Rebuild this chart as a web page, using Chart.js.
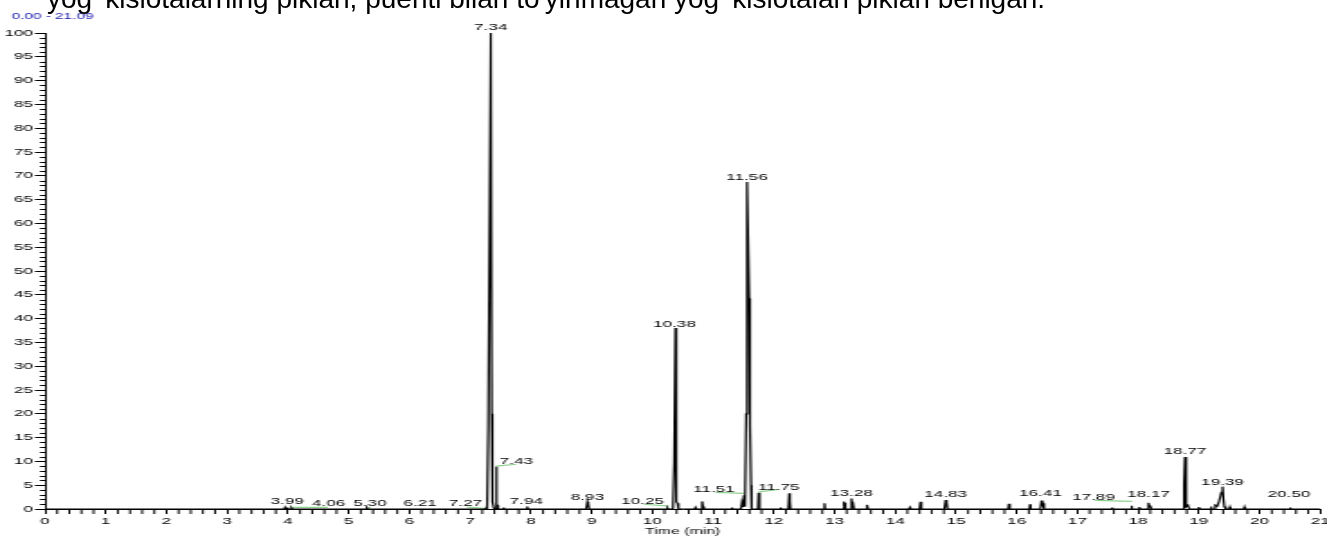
<!DOCTYPE html>
<html>
<head>
<meta charset="utf-8">
<script src="https://cdn.jsdelivr.net/npm/chart.js@4.4.1/dist/chart.umd.min.js"></script>
<style>
  html, body { margin: 0; padding: 0; background: #fff; overflow: hidden; }
  #page { position: relative; width: 1327px; height: 537px; overflow: hidden; background: #fff; }
  #caption {
    position: absolute; left: 47px; top: -15px;
    font: 28px "Liberation Sans", Arial, sans-serif; line-height: 28px;
    white-space: nowrap; color: #000;
  }
  /* the chromatogram is drawn on a narrow canvas and widened horizontally */
  #stage { position: absolute; left: 0; top: 0; width: 737px; height: 537px;
           transform: scaleX(1.80054); transform-origin: 0 0; }
</style>
</head>
<body>
<div id="page">
  <div id="stage"><canvas id="c" width="737" height="537"></canvas></div>
  <div id="caption">yog' kislotalarning piklari, puenti bilan to'yinmagan yog' kislotalari piklari berilgan.</div>
</div>
<script>
// ---- run window ----
const timeRange = '0.00 - 21.09';

// ---- detector trace: retention time (min) / relative abundance (%) ----
const traceTime = [
  0,
  3.94, 3.95, 3.96, 3.98, 3.99, 4.00,
  4.05, 4.06, 4.07,
  5.29, 5.30, 5.31,
  6.20, 6.21, 6.22,
  7.26, 7.27, 7.28,
  7.30, 7.34, 7.355, 7.36, 7.375, 7.39, 7.40,
  7.42, 7.43, 7.44, 7.45, 7.46,
  7.54, 7.55, 7.56,
  7.93, 7.94, 7.95,
  8.91, 8.93, 8.94, 8.95, 8.96,
  10.24, 10.25, 10.26,
  10.34, 10.36, 10.38, 10.39, 10.40, 10.415, 10.43,
  10.70, 10.71, 10.72,
  10.80, 10.82, 10.835, 10.85,
  11.30, 11.31, 11.32,
  11.46, 11.475, 11.49, 11.51, 11.52, 11.53,
  11.545, 11.56, 11.595, 11.597, 11.598, 11.600, 11.612, 11.614, 11.615, 11.617, 11.625, 11.635,
  11.74, 11.75, 11.76, 11.77,
  12.10, 12.11, 12.12,
  12.24, 12.255, 12.265, 12.275,
  12.82, 12.835, 12.845,
  13.14, 13.15, 13.16, 13.17, 13.18,
  13.27, 13.28, 13.29, 13.30, 13.32,
  13.52, 13.535, 13.55,
  14.23, 14.24, 14.25,
  14.40, 14.415, 14.425, 14.435,
  14.81, 14.83, 14.84, 14.85, 14.86,
  15.86, 15.87, 15.885,
  16.21, 16.22, 16.23,
  16.39, 16.41, 16.42, 16.43, 16.45,
  17.56, 17.57, 17.58,
  17.88, 17.89, 17.90,
  18.01, 18.02, 18.03,
  18.16, 18.17, 18.185, 18.20, 18.215,
  18.74, 18.755, 18.77, 18.785, 18.795, 18.82, 18.84,
  18.99, 19.00, 19.01,
  19.19, 19.20, 19.21, 19.25, 19.27, 19.30, 19.33, 19.37, 19.39, 19.405, 19.42, 19.44,
  19.50, 19.51, 19.52,
  19.74, 19.75, 19.76,
  20.49, 20.50, 20.51,
  21
];
const traceSignal = [
  0,
  0, 0.3, 0, 0, 0.3, 0,
  0, 0.2, 0,
  0, 0.2, 0,
  0, 0.1, 0,
  0, 0.3, 0,
  18, 100, 20, 3, 1.5, 0.2, 0,
  0, 8.9, 1, 0.8, 0,
  0, 0.3, 0,
  0, 0.5, 0,
  0, 1.5, 0.6, 1.1, 0,
  0, 0.2, 0,
  0, 10, 38, 10, 1.5, 1.2, 0,
  0, 0.3, 0,
  0, 1.6, 0.5, 0,
  0, 0.3, 0,
  0, 1.2, 0.4, 2.9, 0.8, 0.5,
  20, 68.7, 44.3, 33.8, 44, 34, 21.4, 17.2, 21, 17.5, 5, 0,
  0, 3.4, 0.5, 0,
  0, 0.3, 0,
  0, 3.3, 1.5, 0,
  0, 1.2, 0,
  0, 1.6, 0.5, 1.3, 0,
  0, 2.2, 1.2, 1.5, 0,
  0, 0.9, 0,
  0, 0.3, 0,
  0, 1.5, 0.7, 0,
  0, 1.9, 1.0, 1.4, 0,
  0, 1.1, 0,
  0, 1.0, 0,
  0, 1.8, 1.0, 1.2, 0,
  0, 0.3, 0,
  0, 0.7, 0,
  0, 0.4, 0,
  0, 1.3, 0.6, 0.7, 0,
  0, 5, 10.9, 3, 0.5, 0.8, 0,
  0, 0.4, 0,
  0, 0.5, 0, 0, 0.8, 0.6, 1.5, 3.5, 4.7, 2, 0.5, 0,
  0, 0.4, 0,
  0, 0.4, 0,
  0, 0.3, 0,
  0
];

// ---- annotated retention times ----
const peakRt     = [3.99, 4.06, 5.30, 6.21, 7.27, 7.34, 7.43, 7.94, 8.93, 10.25, 10.38,
                    11.51, 11.56, 11.75, 13.28, 14.83, 16.41, 17.89, 18.17, 18.77, 19.39, 20.50];
const labelLevel = [1.0, 0.7, 0.7, 0.7, 0.7, 100.7, 9.4, 1.0, 1.8, 1.0, 38.3,
                    3.5, 69.2, 3.9, 2.8, 2.6, 2.7, 1.8, 2.6, 11.5, 5.1, 2.6];
const labelShift = [0, 37, 3, -2, -21, 0, 20, -1, 0, -25, -1,
                    -30, 0, 20, 0, 0, -1, -38, 0, 0, 0, -1];

// ---- integration baselines ----
const baseFrom      = [4.05, 5.30, 6.95, 7.42, 9.86, 11.04, 11.75, 17.29];
const baseTo        = [4.66, 5.36, 7.28, 7.76, 10.27, 11.50, 12.08, 17.90];
const baseFromLevel = [0.35, 0.2, 0.4, 9.0, 1.0, 3.5, 3.6, 1.8];
const baseToLevel   = [0.35, 0.4, 0.1, 9.4, 0.6, 3.3, 4.1, 1.6];

// ---- axes ----
const xMin = 0, xMax = 21, xMajor = 1, xMinor = 0.2;
const yMin = 0, yMax = 100, yMajor = 5, yMinor = 1;

const SX = 1327 / 737;
const FONT = '"Liberation Sans", Arial, sans-serif';

const traceSet = {
  data: traceTime.map((t, i) => ({ x: t, y: traceSignal[i] })),
  borderColor: '#000', borderWidth: 1.2, pointRadius: 0, tension: 0, order: 0
};
const baseSets = baseFrom.map((t, i) => ({
  data: [{ x: t, y: baseFromLevel[i] }, { x: baseTo[i], y: baseToLevel[i] }],
  borderColor: '#8fcf8f', borderWidth: 1.2, pointRadius: 0, tension: 0, order: 1
}));

const decorations = {
  id: 'decorations',
  afterDraw(chart) {
    const { ctx, scales: { x, y } } = chart;
    ctx.save();
    // minor tick marks
    ctx.strokeStyle = '#000';
    ctx.lineWidth = 1;
    ctx.beginPath();
    const nY = Math.round((yMax - yMin) / yMinor);
    for (let i = 0; i <= nY; i++) {
      const v = yMin + i * yMinor;
      if (Math.abs(v / yMajor - Math.round(v / yMajor)) < 1e-6) continue;
      const py = Math.round(y.getPixelForValue(v)) + 0.5;
      ctx.moveTo(x.left - 2.8, py);
      ctx.lineTo(x.left, py);
    }
    const nX = Math.round((xMax - xMin) / xMinor);
    for (let i = 0; i <= nX; i++) {
      const v = xMin + i * xMinor;
      if (Math.abs(v / xMajor - Math.round(v / xMajor)) < 1e-6) continue;
      const px = x.getPixelForValue(v);
      ctx.moveTo(px, y.bottom);
      ctx.lineTo(px, y.bottom + 5);
    }
    ctx.stroke();

    // retention time annotations
    ctx.font = '9.5px ' + FONT;
    ctx.fillStyle = '#000';
    ctx.textAlign = 'center';
    ctx.textBaseline = 'alphabetic';
    peakRt.forEach((rt, i) => {
      const px = x.getPixelForValue(rt) + labelShift[i] / SX;
      const py = y.getPixelForValue(labelLevel[i]);
      ctx.fillText(rt.toFixed(2), px, py);
    });

    // time window
    ctx.font = '8.5px ' + FONT;
    ctx.fillStyle = '#2424b0';
    ctx.textAlign = 'left';
    ctx.fillText(timeRange, 6.5, 19);
    ctx.restore();
  }
};

new Chart(document.getElementById('c'), {
  type: 'line',
  data: { datasets: [traceSet, ...baseSets] },
  options: {
    responsive: false,
    animation: false,
    devicePixelRatio: 1,
    layout: { padding: { top: 33, right: 3.7, left: 0, bottom: 0 } },
    plugins: { legend: { display: false }, tooltip: { enabled: false }, title: { display: false } },
    scales: {
      x: {
        type: 'linear', min: xMin, max: xMax,
        ticks: { stepSize: xMajor, autoSkip: false, maxRotation: 0, color: '#000',
                 font: { family: FONT, size: 9.5 }, padding: 2 },
        grid: { display: true, drawOnChartArea: false, tickLength: 5, tickColor: '#000', tickWidth: 1 },
        border: { display: true, color: '#000', width: 1 },
        title: { display: true, text: 'Time (min)', color: '#000',
                 font: { family: FONT, size: 8.8 }, padding: 0 },
        afterFit(s) { s.height = 28; s.paddingLeft = 0; s.paddingRight = 0; }
      },
      y: {
        type: 'linear', min: yMin, max: yMax,
        ticks: { stepSize: yMajor, autoSkip: false, color: '#000',
                 font: { family: FONT, size: 9.5 }, padding: 1 },
        grid: { display: true, drawOnChartArea: false, tickLength: 5.6, tickColor: '#000', tickWidth: 1 },
        border: { display: true, color: '#000', width: 1 },
        afterFit(s) { s.width = 25; s.paddingTop = 0; s.paddingBottom = 0; }
      }
    }
  },
  plugins: [decorations]
});
</script>
</body>
</html>
